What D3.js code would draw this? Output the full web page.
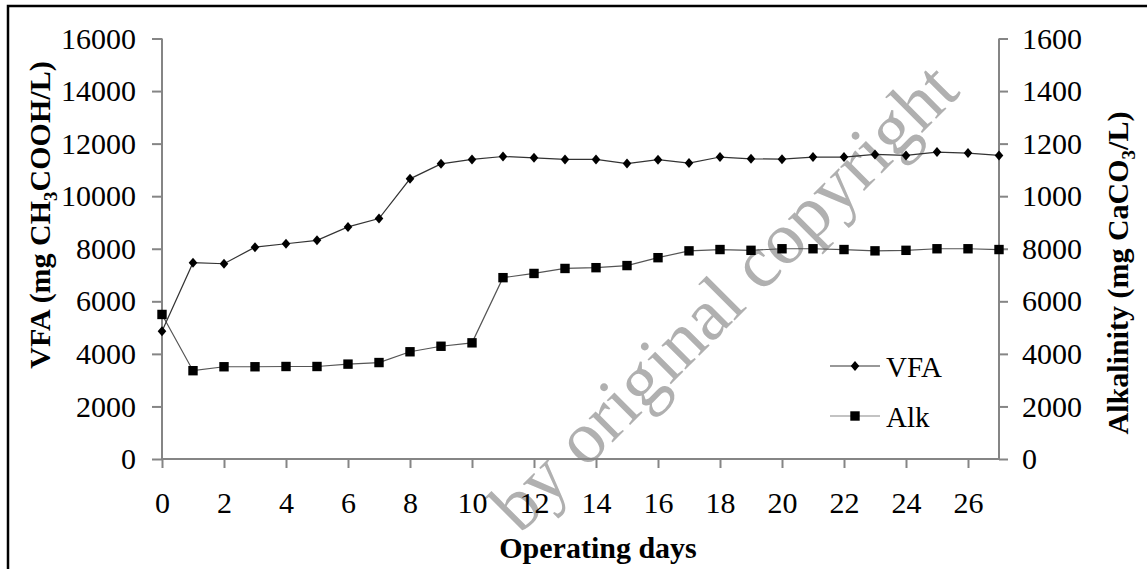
<!DOCTYPE html>
<html>
<head>
<meta charset="utf-8">
<script src="https://cdn.jsdelivr.net/npm/d3@7"></script>
<style>
  body { margin: 0; background: white; }
</style>
</head>
<body>
<svg id="chart"></svg>
<script>
var W = 1147, H = 569;
var serif = "'Liberation Serif'";

// data
var days = d3.range(0, 28);
var vfa = [4860, 7470, 7430, 8060, 8190, 8320, 8830, 9150, 10660, 11230,
           11400, 11510, 11460, 11400, 11400, 11240, 11390, 11260, 11490, 11420,
           11410, 11490, 11490, 11590, 11550, 11680, 11640, 11550];
var alk = [5500, 3360, 3510, 3510, 3520, 3520, 3610, 3670, 4080, 4290,
           4420, 6900, 7060, 7250, 7280, 7360, 7660, 7920, 7970, 7940,
           8000, 8000, 7970, 7920, 7940, 8000, 8000, 7970];

var xTicks = d3.range(0, 27, 2);
var leftTicks = [0, 2000, 4000, 6000, 8000, 10000, 12000, 14000, 16000];
// right axis labels as printed on the original
var rightLabels = ["0", "2000", "4000", "6000", "8000", "1000", "1200", "1400", "1600"];

var svg = d3.select("#chart").attr("width", W).attr("height", H)
  .style("font-family", serif);

// outer frame
svg.append("rect")
  .attr("x", 8).attr("y", 6).attr("width", 1300).attr("height", 700)
  .attr("fill", "none").attr("stroke", "black").attr("stroke-width", 2.5);

var x = d3.scaleLinear().domain([0, 27]).range([162, 999]);
var y = d3.scaleLinear().domain([0, 16000]).range([459, 38.5]);

// watermark, sits under the data
svg.append("text")
  .attr("transform", "translate(520,535) rotate(-45)")
  .style("font-family", serif)
  .style("font-size", "74px")
  .style("fill", "#b0b0b0")
  .text("by original copyright");

var axisColor = "#858585";

var gx = svg.append("g").attr("transform", "translate(0," + y(0) + ")")
  .call(d3.axisBottom(x).tickValues(xTicks).tickSize(9).tickPadding(24).tickFormat(d3.format("d")));
var gl = svg.append("g").attr("transform", "translate(" + x(0) + ",0)")
  .call(d3.axisLeft(y).tickValues(leftTicks).tickSize(10).tickPadding(16).tickFormat(d3.format("d")));
var gr = svg.append("g").attr("transform", "translate(" + x(27) + ",0)")
  .call(d3.axisRight(y).tickValues(leftTicks).tickSize(9).tickPadding(14)
    .tickFormat(function (d, i) { return rightLabels[i]; }));

[gx, gl, gr].forEach(function (g) {
  g.attr("font-family", null).attr("font-size", null);
  g.select(".domain").attr("stroke", axisColor).attr("stroke-width", 2);
  g.selectAll(".tick line").attr("stroke", axisColor).attr("stroke-width", 2);
  g.selectAll(".tick text").attr("fill", "black")
    .style("font-family", serif).style("font-size", "30px");
});
gx.select(".domain").attr("d", "M" + x(0) + ",0H" + x(27));
gl.select(".domain").attr("d", "M0," + y(16000) + "V" + y(0));
gr.select(".domain").attr("d", "M0," + y(16000) + "V" + y(0));

// series
var line = d3.line().x(function (d, i) { return x(days[i]); }).y(function (d) { return y(d); });

svg.append("path").datum(alk).attr("d", line)
  .attr("fill", "none").attr("stroke", "#555").attr("stroke-width", 1.2);
svg.append("path").datum(vfa).attr("d", line)
  .attr("fill", "none").attr("stroke", "#333").attr("stroke-width", 1.2);

var diamond = "M0,-5L4.3,0L0,5L-4.3,0Z";
var sq = 9.4;

svg.selectAll(".alk").data(alk).enter().append("rect")
  .attr("class", "alk")
  .attr("x", function (d, i) { return x(days[i]) - sq / 2; })
  .attr("y", function (d) { return y(d) - sq / 2; })
  .attr("width", sq).attr("height", sq).attr("fill", "black");

svg.selectAll(".vfa").data(vfa).enter().append("path")
  .attr("class", "vfa")
  .attr("d", diamond)
  .attr("transform", function (d, i) { return "translate(" + x(days[i]) + "," + y(d) + ")"; })
  .attr("fill", "black");

// legend
var legend = svg.append("g");
legend.append("line").attr("x1", 830).attr("x2", 880).attr("y1", 366).attr("y2", 366)
  .attr("stroke", "#333").attr("stroke-width", 1.2);
legend.append("path").attr("d", diamond).attr("transform", "translate(855,366)");
legend.append("text").attr("x", 886).attr("y", 377)
  .style("font-family", serif).style("font-size", "29px").text("VFA");
legend.append("line").attr("x1", 830).attr("x2", 880).attr("y1", 416).attr("y2", 416)
  .attr("stroke", "#888").attr("stroke-width", 1.2);
legend.append("rect").attr("x", 855 - sq / 2).attr("y", 416 - sq / 2).attr("width", sq).attr("height", sq);
legend.append("text").attr("x", 886).attr("y", 427)
  .style("font-family", serif).style("font-size", "29px").text("Alk");

// axis titles
svg.append("text")
  .attr("x", 598).attr("y", 558)
  .attr("text-anchor", "middle")
  .style("font-family", serif)
  .style("font-size", "30px").style("font-weight", "bold")
  .text("Operating days");

var lt = svg.append("text")
  .attr("transform", "translate(50,215) rotate(-90)")
  .attr("text-anchor", "middle")
  .style("font-family", serif)
  .style("font-size", "30px").style("font-weight", "bold");
lt.append("tspan").text("VFA (mg CH");
lt.append("tspan").attr("dy", 7).style("font-size", "19px").text("3");
lt.append("tspan").attr("dy", -7).text("COOH/L)");

var rt = svg.append("text")
  .attr("transform", "translate(1128,273) rotate(-90)")
  .attr("text-anchor", "middle")
  .style("font-family", serif)
  .style("font-size", "30px").style("font-weight", "bold");
rt.append("tspan").text("Alkalinity (mg CaCO");
rt.append("tspan").attr("dy", 7).style("font-size", "19px").text("3");
rt.append("tspan").attr("dy", -7).text("/L)");
</script>
</body>
</html>
